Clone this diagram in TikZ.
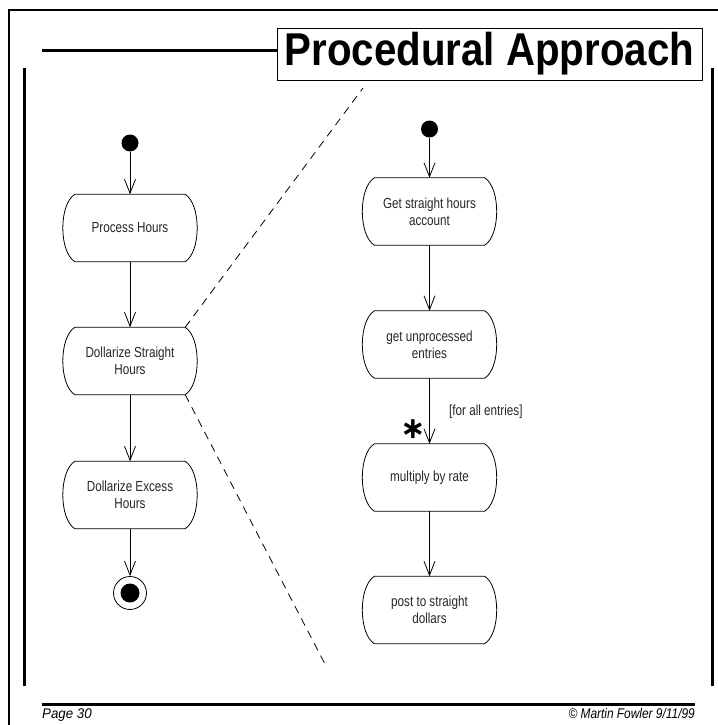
\documentclass[tikz,border=0pt]{standalone}
\usepackage{fontspec}
\setmainfont{Liberation Sans}
\newfontfamily\narrowfont[FakeStretch=0.8]{Liberation Sans}
\newfontfamily\titlefont[FakeStretch=0.875]{Liberation Sans}
\newfontfamily\footfont[FakeStretch=0.95]{Liberation Sans}
\newfontfamily\copyfont[FakeStretch=0.85]{Liberation Sans}
\newfontfamily\starfont{DejaVu Sans}
\usetikzlibrary{arrows.meta}
\tikzset{
  act/.style={minimum width=134pt, minimum height=67pt, inner sep=0pt, draw=none,
    align=center, font=\narrowfont\fontsize{14.6}{17}\selectfont, text=black!85},
  boxline/.style={line width=0.8pt},
  flow/.style={line width=0.8pt, -{Straight Barb[length=14pt,width=11pt,line width=0.8pt]}},
  startdot/.style={circle, fill=black, minimum size=17pt, inner sep=0pt},
  heavy/.style={line width=3pt},
  dashedlink/.style={line width=0.8pt, dash pattern=on 8pt off 6pt},
}
\newcommand\actshape[1]{%
  \draw[boxline] ([xshift=12pt]#1.north west) -- ([xshift=-12pt]#1.north east)
    .. controls ([xshift=4pt,yshift=-10pt]#1.north east) and ([xshift=4pt,yshift=10pt]#1.south east) .. ([xshift=-12pt]#1.south east)
    -- ([xshift=12pt]#1.south west)
    .. controls ([xshift=-4pt,yshift=10pt]#1.south west) and ([xshift=-4pt,yshift=-10pt]#1.north west) .. cycle;}
\begin{document}
\begin{tikzpicture}[x=1pt,y=-1pt]
\useasboundingbox (0,0) rectangle (717,725);
% frame
\draw[line width=1.6pt] (9,730) -- (9,10) -- (722,10);
\coordinate (tl0) at (42,51);
\node[draw, line width=0.8pt, minimum width=425pt, minimum height=52pt, inner sep=0pt,
  font=\titlefont\bfseries\fontsize{46}{50}\selectfont] (title) at (489.5,54) {Procedural Approach};
\draw[heavy] (tl0) -- (tl0 -| title.west);
\coordinate (li1) at (24,68); \coordinate (li2) at (24,686);
\coordinate (ri1) at (712,68); \coordinate (ri2) at (712,686);
\draw[heavy] (li1) -- (li2);
\draw[heavy] (ri1) -- (ri2);
% footer
\coordinate (f1) at (42,704); \coordinate (f2) at (695,704);
\draw[heavy] (f1) -- (f2);
\node[anchor=base west, inner sep=0pt, font=\footfont\itshape\fontsize{14}{16}\selectfont] (page) at (42,718) {Page 30};
\node[anchor=base east, inner sep=0pt, font=\copyfont\itshape\fontsize{14}{16}\selectfont] (copy) at (695,718) {© Martin Fowler 9/11/99};
% left column
\node[startdot] (ls) at (130,143) {};
\node[act] (ph) at (130,228) {Process Hours};
\node[act] (ds) at (130,361) {Dollarize Straight\\Hours};
\node[act] (de) at (130,495) {Dollarize Excess\\Hours};
\node[circle, draw, line width=0.8pt, minimum size=33pt, inner sep=0pt] (le) at (130,593) {};
\node[circle, fill=black, minimum size=19pt, inner sep=0pt] (lei) at (le.center) {};
\actshape{ph}\actshape{ds}\actshape{de}
\draw[flow] (ls) -- (ph.north);
\draw[flow] (ph.south) -- (ds.north);
\draw[flow] (ds.south) -- (de.north);
\draw[flow] (de.south) -- (le.north);
% right column
\node[startdot] (rs) at (429.5,129) {};
\node[act] (gs) at (429.5,211.5) {Get straight hours\\account};
\node[act] (gu) at (429.5,344.5) {get unprocessed\\entries};
\node[act] (mr) at (429.5,477.5) {multiply by rate};
\node[act] (ps) at (429.5,610) {post to straight\\dollars};
\actshape{gs}\actshape{gu}\actshape{mr}\actshape{ps}
\draw[flow] (rs) -- (gs.north);
\draw[flow] (gs.south) -- (gu.north);
\draw[flow] (gu.south) -- (mr.north);
\draw[flow] (mr.south) -- (ps.north);
\node[anchor=west, inner sep=0pt, font=\narrowfont\fontsize{14.6}{17}\selectfont, text=black!85] (guard) at (449,412) {[for all entries]};
\node[inner sep=0pt, font=\starfont\bfseries\fontsize{30}{30}\selectfont] (star) at (413,429) {∗};
% zoom-in dashed lines
\coordinate (d1) at (363,88);
\coordinate (d2) at (327,668);
\draw[dashedlink] ([xshift=-12pt]ds.north east) -- (d1);
\draw[dashedlink] ([xshift=-12pt]ds.south east) -- (d2);
\end{tikzpicture}
\end{document}
